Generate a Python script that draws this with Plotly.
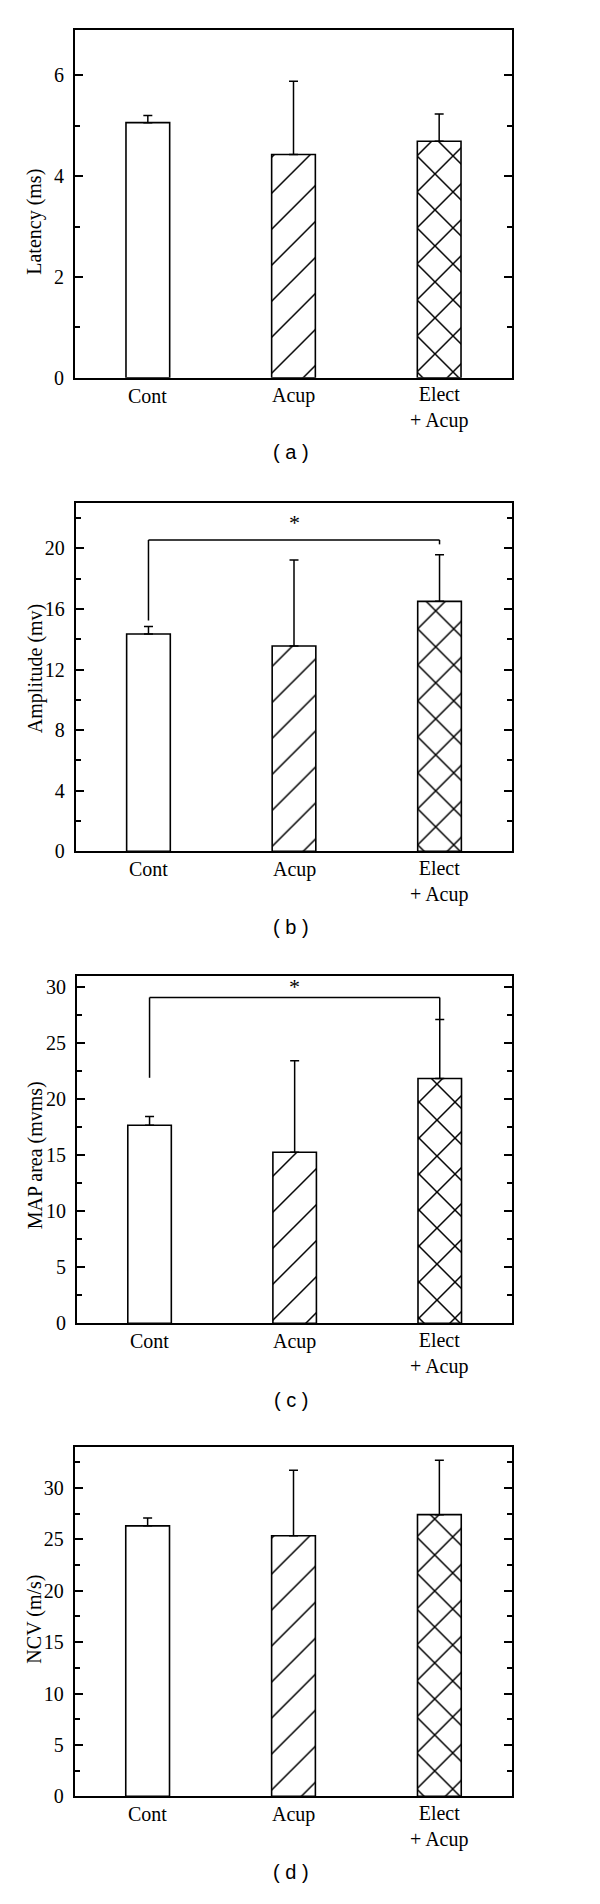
import math
import plotly.graph_objects as go

# ---------------- data ----------------
categories = ["Cont", "Acup", "Elect<br>+ Acup"]

latency_mean = [5.06, 4.43, 4.69]
latency_sd = [0.14, 1.45, 0.54]

amplitude_mean = [14.34, 13.55, 16.50]
amplitude_sd = [0.50, 5.68, 3.08]

map_area_mean = [17.69, 15.27, 21.86]
map_area_sd = [0.77, 8.16, 5.27]

ncv_mean = [26.32, 25.35, 27.41]
ncv_sd = [0.77, 6.39, 5.30]

# significance brackets: (top, left foot, right foot, star height)
amplitude_sig = [20.55, 15.23, 20.26, 21.68]
map_area_sig = [29.08, 21.92, 27.13, 30.06]

y_titles = ["Latency (ms)", "Amplitude (mv)", "MAP area (mvms)", "NCV (m/s)"]
panel_labels = ["( a )", "( b )", "( c )", "( d )"]

# ---------------- layout geometry (pixels) ----------------
W, H = 600, 1904
panels = [
    dict(mean=latency_mean, sd=latency_sd, yrange=[0, 6.9], dtick=2, minor=1,
         ypx=(22, 372), xpx=(67, 504), title_y=215, label_y=447, sig=None),
    dict(mean=amplitude_mean, sd=amplitude_sd, yrange=[0, 23], dtick=4, minor=2,
         ypx=(497.7, 848.3), xpx=(67.7, 504.3), title_y=665, label_y=924, sig=amplitude_sig),
    dict(mean=map_area_mean, sd=map_area_sd, yrange=[0, 31], dtick=5, minor=2.5,
         ypx=(973.7, 1323), xpx=(69, 504.3), title_y=1154, label_y=1400, sig=map_area_sig),
    dict(mean=ncv_mean, sd=ncv_sd, yrange=[0, 34], dtick=5, minor=2.5,
         ypx=(1447.3, 1798.7), xpx=(66.7, 504.3), title_y=1621, label_y=1875, sig=None),
]

SERIF = "Liberation Serif, Times New Roman, serif"
SANS = "Liberation Sans, Arial, sans-serif"
TICK_SIZE = 20
TITLE_SIZE = 20

hatch_size = 36 / math.sqrt(2)
line_px = 1.5
slash_solidity = line_px / hatch_size
cross_solidity = 1 - (1 - line_px / hatch_size) ** 2

patterns = [
    dict(shape=""),
    dict(shape="/", size=hatch_size, solidity=slash_solidity, fgcolor="black", bgcolor="white", fillmode="replace"),
    dict(shape="x", size=hatch_size, solidity=cross_solidity, fgcolor="black", bgcolor="white", fillmode="replace"),
]

fig = go.Figure()
xs = [0, 1, 2]

shapes = []
annotations = []

for i, p in enumerate(panels):
    n = "" if i == 0 else str(i + 1)
    xa, ya = "x" + n, "y" + n
    for j in range(3):
        fig.add_trace(go.Bar(
            x=[xs[j]], y=[p["mean"][j]], width=0.30,
            xaxis=xa, yaxis=ya, showlegend=False,
            marker=dict(color="white", line=dict(color="black", width=1.6),
                        pattern=patterns[j]),
            error_y=dict(type="data", symmetric=False, array=[p["sd"][j]], arrayminus=[0],
                         color="black", thickness=1.5, width=4.5),
        ))
    y0 = 1 - p["ypx"][1] / H
    y1 = 1 - p["ypx"][0] / H
    x0 = p["xpx"][0] / W
    x1 = p["xpx"][1] / W
    fig.layout["xaxis" + n] = dict(
        domain=[x0, x1], anchor=ya, range=[-0.5, 2.5],
        tickvals=xs, ticktext=[""] * 3, ticks="",
        showline=True, linecolor="black", linewidth=2, mirror=True,
        showgrid=False, zeroline=False, fixedrange=True,
    )
    fig.layout["yaxis" + n] = dict(
        domain=[y0, y1], anchor=xa, range=p["yrange"], dtick=p["dtick"], tick0=0,
        ticks="inside", ticklen=8, tickwidth=1.5, tickcolor="black",
        minor=dict(dtick=p["minor"], tick0=0, ticks="inside", ticklen=5, tickwidth=1.5, tickcolor="black"),
        showline=True, linecolor="black", linewidth=2, mirror="ticks",
        showgrid=False, zeroline=False, fixedrange=True, ticklabelstandoff=5,
        tickfont=dict(family=SERIF, size=TICK_SIZE, color="black"),
    )
    # category labels
    base = p["ypx"][1]
    for j, cat in enumerate(categories):
        nlines = cat.count("<br>") + 1
        annotations.append(dict(
            text=cat, xref=xa, yref="paper", x=xs[j],
            y=1 - (base + 18 + 12 * (nlines - 1)) / H,
            xanchor="center", yanchor="middle", showarrow=False,
            font=dict(family=SERIF, size=TICK_SIZE, color="black"),
        ))
    # y-axis title
    annotations.append(dict(
        text=y_titles[i], xref="paper", yref="paper", x=27 / W, y=1 - p["title_y"] / H,
        xanchor="center", yanchor="middle", textangle=-90, showarrow=False,
        font=dict(family=SERIF, size=TITLE_SIZE, color="black"),
    ))
    # panel label
    annotations.append(dict(
        text=panel_labels[i], xref="paper", yref="paper", x=283 / W, y=1 - p["label_y"] / H,
        xanchor="center", yanchor="middle", showarrow=False,
        font=dict(family=SANS, size=20, color="black"),
    ))
    if p["sig"] is not None:
        top, lfoot, rfoot, star = p["sig"]
        for (ax0, ay0, ax1, ay1) in [(xs[0], lfoot, xs[0], top), (xs[0], top, xs[2], top), (xs[2], top, xs[2], rfoot)]:
            shapes.append(dict(type="line", xref=xa, yref=ya, x0=ax0, y0=ay0, x1=ax1, y1=ay1,
                               line=dict(color="black", width=1.5)))
        annotations.append(dict(
            text="*", xref=xa, yref=ya, x=xs[1], y=star, showarrow=False,
            xanchor="center", yanchor="middle",
            font=dict(family=SERIF, size=22, color="black"),
        ))

fig.update_layout(
    width=W, height=H, margin=dict(l=0, r=0, t=0, b=0),
    paper_bgcolor="white", plot_bgcolor="white",
    shapes=shapes, annotations=annotations, barmode="overlay",
)

fig.write_html("out.html")
